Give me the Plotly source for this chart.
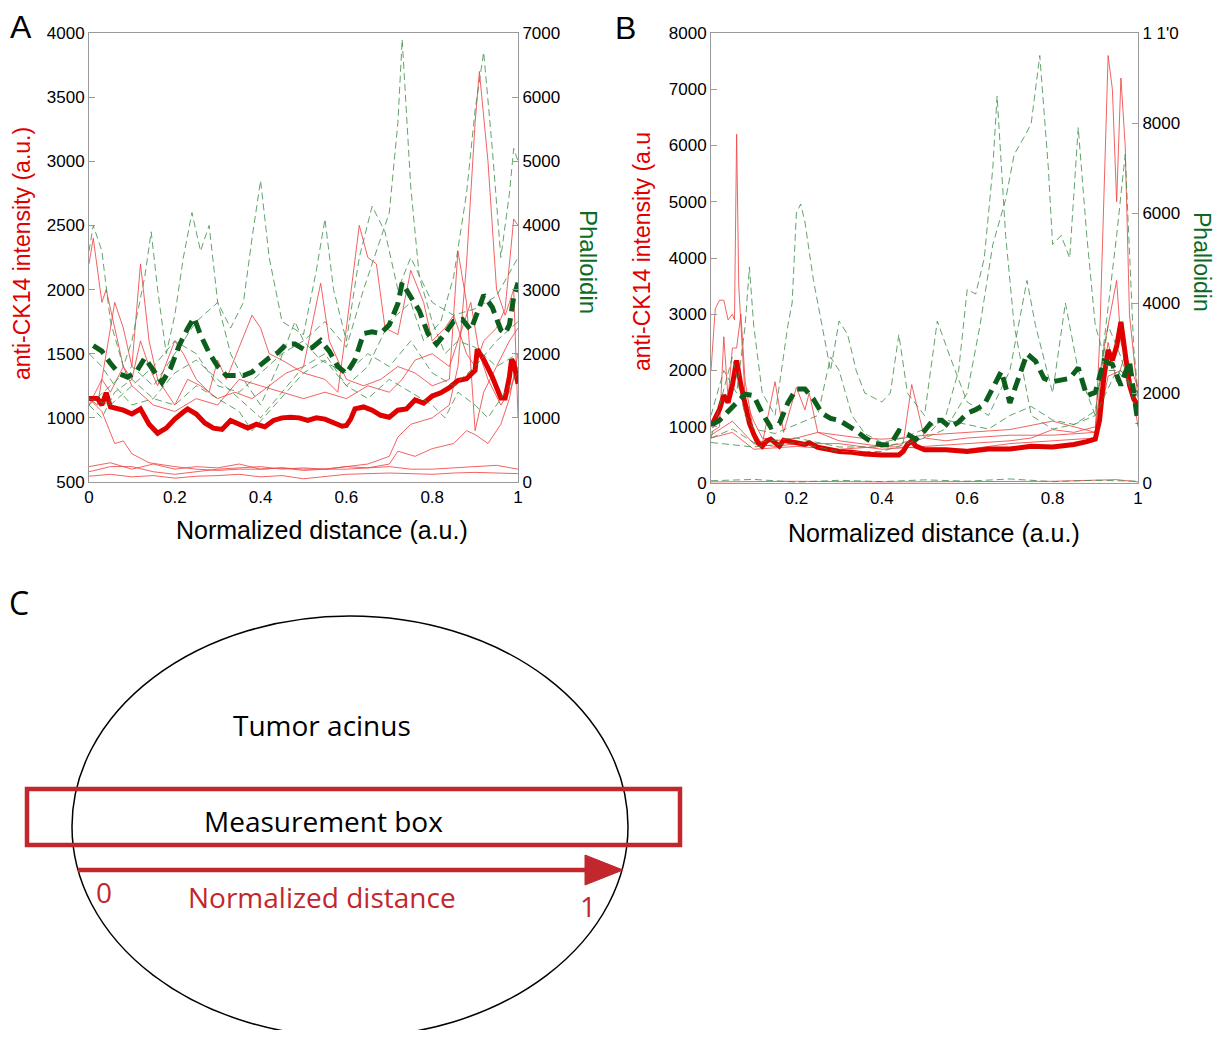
import plotly.graph_objects as go

# page body has an 8px margin; the figure is sized so that it fits exactly
OFF = 8
W, H = 1226 - 2 * OFF, 1038 - 2 * OFF

# ---------------- Panel A data ----------------
a_mean_ck14_x = [0, 0.02, 0.03, 0.04, 0.05, 0.08, 0.1, 0.12, 0.14, 0.16, 0.18, 0.2, 0.22, 0.23, 0.25, 0.27, 0.29, 0.31,
                 0.33, 0.35, 0.37, 0.39, 0.41, 0.43, 0.45, 0.47, 0.49, 0.51, 0.53, 0.55, 0.57, 0.59, 0.6, 0.61, 0.62,
                 0.64, 0.66, 0.68, 0.7, 0.72, 0.74, 0.76, 0.78, 0.8, 0.82, 0.84, 0.86, 0.88, 0.9, 0.905, 0.92, 0.94,
                 0.96, 0.97, 0.98, 0.985, 0.99, 1.0]
a_mean_ck14_y = [1150, 1150, 1100, 1195, 1085, 1060, 1030, 1070, 950, 880, 920, 990, 1045, 1070, 1030, 960, 920, 910,
                 980, 950, 920, 950, 930, 980, 1000, 1005, 1000, 980, 1000, 990, 960, 935, 940, 990, 1070,
                 1085, 1060, 1020, 1005, 1060, 1070, 1140, 1115, 1170, 1195, 1235, 1290, 1305, 1370, 1535, 1455, 1320,
                 1155, 1155, 1320, 1455, 1430, 1265]

a_mean_phal_x = [0.01, 0.03, 0.05, 0.07, 0.09, 0.11, 0.13, 0.15, 0.17, 0.19, 0.21, 0.23, 0.245, 0.26, 0.28, 0.3, 0.32,
                 0.34, 0.36, 0.38, 0.4, 0.42, 0.44, 0.46, 0.48, 0.5, 0.52, 0.54, 0.56, 0.58, 0.6, 0.62, 0.64, 0.66,
                 0.68, 0.7, 0.72, 0.73, 0.75, 0.77, 0.79, 0.81, 0.83, 0.85, 0.87, 0.89, 0.91, 0.92, 0.94, 0.96, 0.97,
                 0.98, 0.99, 1.0]
a_mean_phal_y = [2125, 2040, 1850, 1690, 1635, 1715, 1935, 1745, 1550, 1770, 2125, 2395, 2560, 2290, 2015, 1800, 1660,
                 1660, 1660, 1715, 1825, 1935, 2015, 2150, 2150, 2070, 2095, 2205, 2040, 1800, 1690, 1905, 2315, 2340,
                 2315, 2450, 2780, 3105, 2885, 2670, 2315, 2150, 2315, 2505, 2535, 2370, 2725, 2915, 2725, 2370, 2315,
                 2450, 2885, 3105]

a_ck14_1_x = [0, 0.01, 0.03, 0.04, 0.06, 0.08, 0.1, 0.12, 0.14, 0.16, 0.2, 0.22, 0.25, 0.28, 0.3, 0.32, 0.35, 0.38,
              0.4, 0.42, 0.45, 0.5, 0.55, 0.58, 0.6, 0.63, 0.65, 0.67, 0.69, 0.72, 0.75, 0.78, 0.8, 0.83, 0.85,
              0.88, 0.9, 0.92, 0.95, 0.97, 0.99, 1.0]
a_ck14_1_y = [2200, 2400, 1900, 2000, 1700, 1400, 1300, 1600, 1400, 1250, 1600, 1500, 1300, 1200, 1450, 1300, 1550, 1800,
              1700, 1500, 1450, 1350, 1300, 1200, 1700, 2500, 2250, 2200, 1700, 1650, 2150, 1900, 1600, 1700, 1800,
              1500, 1400, 1600, 1700, 1850, 2550, 2500]

a_ck14_2_x = [0, 0.02, 0.04, 0.06, 0.08, 0.1, 0.12, 0.14, 0.16, 0.18, 0.2, 0.23, 0.26, 0.3, 0.34, 0.38, 0.42, 0.46,
              0.5, 0.54, 0.56, 0.6, 0.64, 0.68, 0.72, 0.76, 0.8, 0.84, 0.86, 0.88, 0.9, 0.92, 0.95, 0.98, 1.0]
a_ck14_2_y = [1150, 1100, 1500, 1900, 1700, 1400, 2200, 1600, 1300, 1200, 1100, 1300, 1250, 1150, 1200, 1150, 1250, 1350,
              1400, 2050, 1600, 1300, 1250, 1300, 1400, 1350, 1250, 1300, 2300, 1900, 900, 1200, 1400, 1600, 1700]

a_ck14_3_x = [0, 0.03, 0.06, 0.08, 0.1, 0.14, 0.2, 0.25, 0.3, 0.35, 0.4, 0.45, 0.5, 0.55, 0.6, 0.65, 0.7, 0.72,
              0.75, 0.8, 0.84, 0.86, 0.88, 0.9, 0.91, 0.93, 0.95, 0.97, 0.99, 1.0]
a_ck14_3_y = [1150, 1050, 800, 820, 720, 650, 620, 600, 590, 600, 600, 610, 600, 600, 620, 640, 700, 850,
              950, 1000, 1100, 1400, 2200, 3300, 3700, 3000, 2000, 1800, 2000, 1000]

a_ck14_4_x = [0, 0.03, 0.05, 0.08, 0.1, 0.15, 0.2, 0.25, 0.3, 0.35, 0.4, 0.45, 0.5, 0.55, 0.6, 0.65, 0.7, 0.73,
              0.76, 0.8, 0.84, 0.87, 0.89, 0.91, 0.93, 0.96, 0.98, 1.0]
a_ck14_4_y = [1100, 1300, 1200, 1400, 1250, 1100, 1050, 1150, 1100, 1300, 1250, 1200, 1150, 1200, 1150, 1250, 1200, 1300,
              1450, 1500, 1400, 1700, 1900, 1500, 1300, 1100, 1200, 1400]

a_ck14_5_x = [0, 0.05, 0.1, 0.15, 0.2, 0.25, 0.3, 0.35, 0.4, 0.45, 0.5, 0.55, 0.6, 0.65, 0.7, 0.75, 0.8, 0.85,
              0.9, 0.95, 1.0]
a_ck14_5_y = [620, 650, 600, 640, 600, 620, 610, 640, 600, 610, 590, 600, 600, 610, 620, 600, 600, 610,
              620, 630, 600]

a_ck14_6_x = [0, 0.05, 0.1, 0.15, 0.2, 0.25, 0.3, 0.35, 0.4, 0.45, 0.5, 0.55, 0.6, 0.65, 0.7, 0.72, 0.76, 0.8,
              0.85, 0.88, 0.9, 0.93, 0.96, 0.98, 1.0]
a_ck14_6_y = [580, 620, 620, 580, 560, 580, 600, 610, 620, 600, 610, 600, 620, 610, 640, 740, 700, 760,
              800, 900, 870, 800, 950, 1150, 1500]

a_ck14_7_x = [0, 0.05, 0.1, 0.15, 0.2, 0.25, 0.3, 0.35, 0.4, 0.45, 0.5, 0.55, 0.6, 0.65, 0.7, 0.75, 0.8, 0.85,
              0.9, 0.95, 1.0]
a_ck14_7_y = [545, 560, 540, 550, 530, 545, 550, 560, 540, 550, 525, 540, 560, 565, 570, 565, 560, 570,
              575, 570, 565]

a_phal_1_x = [0, 0.05, 0.1, 0.15, 0.2, 0.25, 0.3, 0.35, 0.4, 0.45, 0.5, 0.55, 0.6, 0.64, 0.68, 0.7, 0.72, 0.73,
              0.75, 0.77, 0.8, 0.83, 0.86, 0.9, 0.95, 1.0]
a_phal_1_y = [1300, 1200, 1500, 1800, 2200, 2000, 1500, 1400, 1700, 2000, 2200, 2500, 2100, 3000, 3800, 4200, 5600, 6900,
              4600, 3200, 2500, 2000, 2200, 2100, 1800, 2000]

a_phal_2_x = [0, 0.03, 0.06, 0.1, 0.15, 0.2, 0.25, 0.3, 0.35, 0.4, 0.45, 0.5, 0.55, 0.6, 0.65, 0.7, 0.75, 0.78,
              0.82, 0.85, 0.88, 0.9, 0.92, 0.94, 0.96, 0.98, 0.99, 1.0]
a_phal_2_y = [2000, 1800, 1500, 1200, 1300, 1700, 1900, 1600, 1300, 1000, 1400, 1800, 2000, 1500, 1800, 2500, 2800, 2200,
              2500, 3200, 4500, 5800, 6700, 5200, 3500, 4500, 5200, 5000]

a_phal_3_x = [0, 0.05, 0.1, 0.15, 0.2, 0.25, 0.3, 0.33, 0.36, 0.38, 0.4, 0.42, 0.45, 0.5, 0.53, 0.55, 0.57, 0.6,
              0.63, 0.66, 0.69, 0.72, 0.75, 0.8, 0.85, 0.9, 0.95, 1.0]
a_phal_3_y = [1200, 1500, 1800, 1500, 2000, 2500, 2800, 2400, 2800, 3800, 4700, 3500, 2500, 2300, 3300, 4100, 3000, 2200,
              3500, 4300, 3900, 3000, 3500, 2800, 2600, 2700, 2900, 3500]

a_phal_4_x = [0, 0.01, 0.03, 0.05, 0.08, 0.1, 0.13, 0.145, 0.16, 0.18, 0.2, 0.22, 0.24, 0.26, 0.28, 0.3, 0.33, 0.36,
              0.4, 0.44, 0.48, 0.5, 0.54, 0.6, 0.65, 0.7, 0.75, 0.8, 0.85, 0.9, 0.95, 1.0]
a_phal_4_y = [3600, 4000, 3600, 2500, 1800, 2200, 3200, 3900, 3000, 2000, 2600, 3500, 4200, 3600, 4000, 2800, 2000, 1600,
              1200, 1800, 2500, 2200, 1900, 1700, 2000, 1800, 2200, 1700, 1500, 1800, 2200, 2500]

a_phal_5_x = [0, 0.03, 0.06, 0.1, 0.15, 0.2, 0.25, 0.3, 0.35, 0.38, 0.42, 0.46, 0.5, 0.55, 0.6, 0.65, 0.7, 0.75,
              0.8, 0.83, 0.86, 0.9, 0.93, 0.96, 1.0]
a_phal_5_y = [1200, 1000, 1400, 1600, 1300, 1200, 1500, 1300, 1100, 800, 1100, 1400, 1700, 1900, 1500, 1300, 1600, 1400,
              1200, 1000, 1400, 1200, 1000, 1300, 1700]

# ---------------- Panel B data ----------------
b_mean_ck14_x = [0, 0.01, 0.02, 0.03, 0.04, 0.05, 0.06, 0.07, 0.08, 0.09, 0.1, 0.11, 0.12, 0.13, 0.14, 0.15, 0.16,
                 0.17, 0.18, 0.2, 0.22, 0.23, 0.25, 0.28, 0.3, 0.33, 0.36, 0.4, 0.44, 0.45, 0.46, 0.47, 0.48, 0.5,
                 0.55, 0.6, 0.65, 0.7, 0.75, 0.8, 0.85, 0.88, 0.9, 0.91, 0.915, 0.92, 0.93, 0.94, 0.95, 0.96, 0.97,
                 0.98, 0.99, 1.0]
b_mean_ck14_y = [1000, 1180, 1310, 1560, 1430, 1740, 2180, 1740, 1370, 1060, 870, 715, 655, 745, 780, 715, 655,
                 760, 745, 715, 685, 715, 635, 590, 560, 548, 515, 500, 500, 560, 685, 745, 655, 590,
                 590, 560, 605, 605, 655, 640, 685, 735, 780, 1120, 1620, 1870, 2365, 2180, 2430, 2865, 2300,
                 1745, 1495, 1370]

b_mean_phal_x = [0, 0.02, 0.04, 0.06, 0.08, 0.1, 0.12, 0.14, 0.16, 0.18, 0.2, 0.22, 0.24, 0.26, 0.28, 0.3, 0.32, 0.34,
                 0.36, 0.38, 0.4, 0.42, 0.44, 0.46, 0.48, 0.5, 0.52, 0.54, 0.56, 0.58, 0.6, 0.62, 0.64, 0.66, 0.68,
                 0.7, 0.72, 0.74, 0.76, 0.78, 0.8, 0.82, 0.84, 0.86, 0.88, 0.9, 0.92, 0.94, 0.96, 0.98, 1.0]
b_mean_phal_y = [1280, 1395, 1590, 1780, 1975, 1940, 1550, 1240, 1320, 1780, 2090, 2090, 1860, 1550, 1435, 1395, 1280,
                 1160, 1010, 890, 850, 850, 1160, 1085, 970, 1160, 1395, 1395, 1240, 1355, 1550, 1630, 1745, 2090,
                 2480, 1780, 2325, 2870, 2710, 2325, 2250, 2285, 2325, 2560, 1940, 2015, 2710, 2635, 2170, 2710, 1320]

b_ck14_1_x = [0, 0.01, 0.02, 0.03, 0.04, 0.05, 0.055, 0.06, 0.065, 0.07, 0.08, 0.1, 0.12, 0.15, 0.2, 0.25, 0.3, 0.35,
              0.4, 0.45, 0.5, 0.6, 0.7, 0.8, 0.85, 0.9, 0.91, 0.92, 0.93, 0.94, 0.95, 0.96, 0.97, 0.98, 1.0]
b_ck14_1_y = [2000, 3100, 3250, 3250, 2900, 3000, 2900, 6200, 3500, 2900, 1500, 1100, 800, 750, 800, 900, 850, 800,
              780, 800, 850, 900, 950, 1100, 1000, 900, 2500, 5000, 7600, 7000, 5000, 7200, 6000, 3000, 1500]

b_ck14_2_x = [0, 0.02, 0.03, 0.04, 0.05, 0.06, 0.07, 0.08, 0.1, 0.12, 0.15, 0.17, 0.2, 0.22, 0.23, 0.25, 0.3, 0.35,
              0.4, 0.45, 0.47, 0.5, 0.55, 0.6, 0.7, 0.8, 0.9, 0.92, 0.95, 0.96, 0.98, 1.0]
b_ck14_2_y = [900, 1000, 2600, 1500, 2400, 2400, 3000, 1800, 900, 700, 1800, 900, 1700, 1300, 1600, 900, 750, 700,
              650, 700, 1750, 800, 750, 800, 850, 850, 900, 2400, 3600, 2500, 2000, 1000]

b_ck14_3_x = [0, 0.05, 0.1, 0.15, 0.2, 0.3, 0.4, 0.5, 0.6, 0.7, 0.75, 0.8, 0.85, 0.9, 0.93, 0.95, 0.97, 1.0]
b_ck14_3_y = [850, 1100, 700, 650, 700, 700, 600, 650, 700, 750, 800, 950, 900, 1000, 2500, 1800, 2300, 1700]

b_ck14_4_x = [0, 0.05, 0.1, 0.2, 0.3, 0.4, 0.5, 0.6, 0.7, 0.8, 0.9, 0.93, 0.96, 1.0]
b_ck14_4_y = [800, 900, 600, 650, 600, 650, 620, 600, 700, 750, 800, 1900, 2000, 1600]

b_ck14_5_x = [0, 0.2, 0.4, 0.6, 0.8, 0.95, 1.0]
b_ck14_5_y = [20, 30, 20, 25, 30, 60, 20]

b_phal_1_x = [0, 0.05, 0.1, 0.2, 0.3, 0.4, 0.5, 0.55, 0.58, 0.6, 0.62, 0.64, 0.66, 0.67, 0.69, 0.71, 0.73, 0.75,
              0.8, 0.85, 0.9, 0.95, 1.0]
b_phal_1_y = [1000, 1200, 900, 1000, 800, 800, 1000, 1500, 2500, 4300, 4200, 5000, 7000, 8600, 5500, 3500, 2500, 1500,
              1200, 1300, 1500, 2500, 2000]

b_phal_2_x = [0, 0.1, 0.2, 0.3, 0.4, 0.5, 0.55, 0.6, 0.63, 0.66, 0.69, 0.71, 0.74, 0.75, 0.77, 0.79, 0.8, 0.82,
              0.84, 0.86, 0.88, 0.9, 0.93, 0.96, 1.0]
b_phal_2_y = [900, 800, 900, 700, 700, 1000, 1200, 2000, 3500, 5300, 6300, 7300, 7800, 8000, 9500, 7000, 5300, 5500,
              5000, 7900, 5500, 3500, 2500, 2500, 2000]

b_phal_3_x = [0, 0.03, 0.06, 0.08, 0.09, 0.1, 0.12, 0.15, 0.18, 0.19, 0.2, 0.21, 0.22, 0.24, 0.26, 0.28, 0.3, 0.32,
              0.34, 0.36, 0.38, 0.4, 0.42, 0.44, 0.46, 0.5, 0.53, 0.56, 0.6, 0.65, 0.7, 0.74, 0.76, 0.8, 0.83,
              0.86, 0.9, 0.95, 0.97, 0.99, 1.0]
b_phal_3_y = [1500, 2500, 2000, 3500, 4800, 3500, 2000, 1500, 3500, 4000, 6000, 6200, 5800, 4500, 3500, 2500, 3600, 3300,
              2500, 2000, 1900, 1800, 2000, 3300, 2000, 1500, 3600, 2800, 1800, 1500, 2500, 4500, 3500, 2000, 4000,
              2500, 1500, 5500, 7300, 3000, 2000]

b_phal_4_x = [0, 0.05, 0.08, 0.1, 0.15, 0.2, 0.25, 0.28, 0.3, 0.33, 0.36, 0.4, 0.45, 0.5, 0.55, 0.6, 0.65, 0.7,
              0.75, 0.8, 0.85, 0.9, 0.93, 0.96, 1.0]
b_phal_4_y = [1000, 2800, 1500, 1200, 1100, 1300, 1500, 2800, 2500, 1500, 1100, 900, 1000, 1200, 1400, 1300, 1200, 1500,
              1700, 1400, 1300, 1600, 3500, 2800, 1500]

b_phal_5_x = [0, 0.1, 0.2, 0.3, 0.4, 0.5, 0.6, 0.7, 0.8, 0.9, 1.0]
b_phal_5_y = [50, 80, 20, 60, 30, 70, 40, 90, 30, 60, 40]

# tick labels
x_ticks = [0, 0.2, 0.4, 0.6, 0.8, 1]
x_ticktext = ["0", "0.2", "0.4", "0.6", "0.8", "1"]
a_left_ticks = [500, 1000, 1500, 2000, 2500, 3000, 3500, 4000]
a_right_ticks = [0, 1000, 2000, 3000, 4000, 5000, 6000, 7000]
b_left_ticks = [0, 1000, 2000, 3000, 4000, 5000, 6000, 7000, 8000]
b_right_ticks = [0, 2000, 4000, 6000, 8000, 10000]
b_right_ticktext = ["0", "2000", "4000", "6000", "8000", "1 1'0"]

# ---------------- styles ----------------
THIN_RED = "rgba(240,70,70,0.85)"
THICK_RED = "#e00000"
THIN_GREEN = "rgba(60,140,70,0.8)"
THICK_GREEN = "#0b5e1c"
FRAME = "#9a9a9a"
FONT = "Liberation Sans, Arial, sans-serif"
C_FONT = "Open Sans, Noto Sans, sans-serif"
C_RED = "#c1272d"

fig = go.Figure()


def thin_red(x, y, xa, ya):
    fig.add_trace(go.Scatter(x=x, y=y, xaxis=xa, yaxis=ya, mode="lines",
                             line=dict(color=THIN_RED, width=1), showlegend=False, hoverinfo="skip"))


def thin_green(x, y, xa, ya):
    fig.add_trace(go.Scatter(x=x, y=y, xaxis=xa, yaxis=ya, mode="lines",
                             line=dict(color=THIN_GREEN, width=1, dash="7px,4px"), showlegend=False,
                             hoverinfo="skip"))


# Panel A
for xs, ys in [(a_ck14_1_x, a_ck14_1_y), (a_ck14_2_x, a_ck14_2_y), (a_ck14_3_x, a_ck14_3_y),
               (a_ck14_4_x, a_ck14_4_y), (a_ck14_5_x, a_ck14_5_y), (a_ck14_6_x, a_ck14_6_y),
               (a_ck14_7_x, a_ck14_7_y)]:
    thin_red(xs, ys, "x", "y")
for xs, ys in [(a_phal_1_x, a_phal_1_y), (a_phal_2_x, a_phal_2_y), (a_phal_3_x, a_phal_3_y),
               (a_phal_4_x, a_phal_4_y), (a_phal_5_x, a_phal_5_y)]:
    thin_green(xs, ys, "x", "y2")
fig.add_trace(go.Scatter(x=a_mean_phal_x, y=a_mean_phal_y, xaxis="x", yaxis="y2", mode="lines",
                         line=dict(color=THICK_GREEN, width=5, dash="13px,7px"), showlegend=False))
fig.add_trace(go.Scatter(x=a_mean_ck14_x, y=a_mean_ck14_y, xaxis="x", yaxis="y", mode="lines",
                         line=dict(color=THICK_RED, width=5), showlegend=False))

# Panel B
for xs, ys in [(b_ck14_1_x, b_ck14_1_y), (b_ck14_2_x, b_ck14_2_y), (b_ck14_3_x, b_ck14_3_y),
               (b_ck14_4_x, b_ck14_4_y), (b_ck14_5_x, b_ck14_5_y)]:
    thin_red(xs, ys, "x2", "y3")
for xs, ys in [(b_phal_1_x, b_phal_1_y), (b_phal_2_x, b_phal_2_y), (b_phal_3_x, b_phal_3_y),
               (b_phal_4_x, b_phal_4_y), (b_phal_5_x, b_phal_5_y)]:
    thin_green(xs, ys, "x2", "y4")
fig.add_trace(go.Scatter(x=b_mean_phal_x, y=b_mean_phal_y, xaxis="x2", yaxis="y4", mode="lines",
                         line=dict(color=THICK_GREEN, width=5, dash="13px,7px"), showlegend=False))
fig.add_trace(go.Scatter(x=b_mean_ck14_x, y=b_mean_ck14_y, xaxis="x2", yaxis="y3", mode="lines",
                         line=dict(color=THICK_RED, width=5), showlegend=False))


def px(xp):
    # page pixel -> paper fraction
    return (xp - OFF) / W


def py(yp):
    return 1 - (yp - OFF) / H


A_DOM_X = [px(89), px(518)]
A_DOM_Y = [py(482), py(33)]
B_DOM_X = [px(711), px(1138)]
B_DOM_Y = [py(483), py(33)]

tickfont = dict(family=FONT, size=17, color="black")
common_x = dict(range=[0, 1], tickvals=x_ticks, ticktext=x_ticktext, showline=True, linecolor=FRAME,
                linewidth=1, mirror=True, ticks="", showgrid=False, zeroline=False, tickfont=tickfont,
                automargin=False, fixedrange=True)
common_y = dict(showline=True, linecolor=FRAME, linewidth=1, ticks="inside", ticklen=6, tickcolor=FRAME,
                showgrid=False, zeroline=False, tickfont=tickfont, automargin=False, fixedrange=True)

fig.update_layout(
    width=W, height=H, margin=dict(l=0, r=0, t=0, b=0),
    paper_bgcolor="white", plot_bgcolor="white",
    xaxis=dict(domain=A_DOM_X, anchor="y", **common_x),
    yaxis=dict(domain=A_DOM_Y, anchor="x", range=[500, 4000], tickvals=a_left_ticks, **common_y),
    yaxis2=dict(overlaying="y", side="right", anchor="x", range=[0, 7000], tickvals=a_right_ticks, **common_y),
    xaxis2=dict(domain=B_DOM_X, anchor="y3", **common_x),
    yaxis3=dict(domain=B_DOM_Y, anchor="x2", range=[0, 8000], tickvals=b_left_ticks, **common_y),
    yaxis4=dict(overlaying="y3", side="right", anchor="x2", range=[0, 10000], tickvals=b_right_ticks,
                ticktext=b_right_ticktext, **common_y),
)

ann = []


def text(x, y, s, size, color="black", angle=0, family=FONT, xanchor="center", yanchor="middle"):
    ann.append(dict(x=px(x), y=py(y), xref="paper", yref="paper", text=s, showarrow=False,
                    font=dict(family=family, size=size, color=color), textangle=angle,
                    xanchor=xanchor, yanchor=yanchor, borderpad=0))


# panel letters (top-anchored so that they stay inside the figure)
text(21, 8, "A", 32, yanchor="top")
text(625, 9, "B", 32, yanchor="top")
text(19, 602, "C", 32, family=C_FONT)

# axis titles
text(322, 530, "Normalized distance (a.u.)", 25)
text(934, 533, "Normalized distance (a.u.)", 25)
text(22, 254, "anti-CK14 intensity (a.u.)", 23, color="#e00000", angle=-90)
text(589, 262, "Phalloidin", 24, color="#0b6b1f", angle=90)
text(642, 252, "anti-CK14 intensity (a.u", 23, color="#e00000", angle=-90)
text(1202, 262, "Phalloidin", 23, color="#0b6b1f", angle=90)

# panel C texts
text(322, 725, "Tumor acinus", 28, family=C_FONT)
text(323, 821, "Measurement box", 28, family=C_FONT)
text(322, 897, "Normalized distance", 28, color=C_RED, family=C_FONT)
text(104, 892, "0", 28, color=C_RED, family=C_FONT)
text(588, 906, "1", 28, color=C_RED, family=C_FONT)

shapes = [
    # tumor acinus ellipse
    dict(type="circle", xref="paper", yref="paper", x0=px(72), x1=px(628), y0=py(1037), y1=py(616),
         line=dict(color="black", width=1.5)),
    # measurement box
    dict(type="rect", xref="paper", yref="paper", x0=px(27), x1=px(680), y0=py(845), y1=py(789),
         line=dict(color=C_RED, width=4.5)),
    # arrow shaft
    dict(type="line", xref="paper", yref="paper", x0=px(78), x1=px(592), y0=py(870), y1=py(870),
         line=dict(color=C_RED, width=4.5)),
    # arrow head
    dict(type="path", xref="paper", yref="paper",
         path=f"M {px(585)} {py(855)} L {px(623)} {py(870)} L {px(585)} {py(885)} Z",
         fillcolor=C_RED, line=dict(color=C_RED, width=1)),
]

fig.update_layout(annotations=ann, shapes=shapes)

fig.write_html("out.html")
